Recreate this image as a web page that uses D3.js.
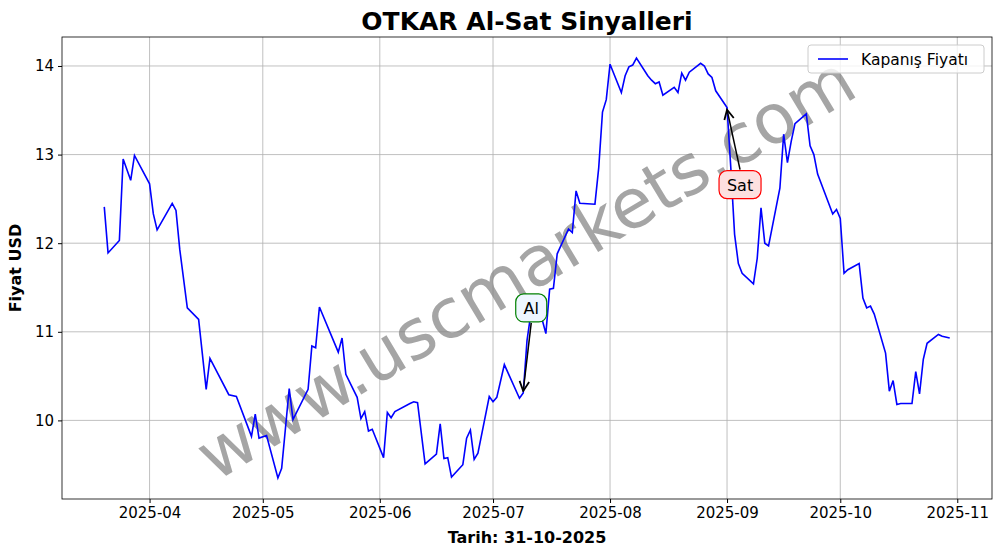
<!DOCTYPE html>
<html>
<head>
<meta charset="utf-8">
<script src="https://cdn.jsdelivr.net/npm/d3@7"></script>
<style>
  body { margin: 0; background: #fff; }
  svg { font-family: "DejaVu Sans", sans-serif; }
  .grid line { stroke: #b0b0b0; stroke-width: 0.8; }
  .axis .domain { display: none; }
</style>
</head>
<body>
<div id="chart"></div>
<script>
// ----------------------------DATA-------------------------------//
const dates = [
  '2025-03-20','2025-03-21','2025-03-24','2025-03-25','2025-03-27','2025-03-28',
  '2025-04-01','2025-04-02','2025-04-03','2025-04-07','2025-04-08','2025-04-09','2025-04-11','2025-04-14',
  '2025-04-16','2025-04-17','2025-04-22','2025-04-24','2025-04-28','2025-04-29','2025-04-30',
  '2025-05-02','2025-05-05','2025-05-06','2025-05-08','2025-05-09','2025-05-13','2025-05-14','2025-05-15',
  '2025-05-16','2025-05-21','2025-05-22','2025-05-23','2025-05-26','2025-05-27','2025-05-28','2025-05-29',
  '2025-05-30','2025-06-02','2025-06-03','2025-06-04','2025-06-05','2025-06-09','2025-06-10','2025-06-11',
  '2025-06-13','2025-06-16','2025-06-17','2025-06-18','2025-06-19','2025-06-20','2025-06-23','2025-06-24',
  '2025-06-25','2025-06-26','2025-06-27','2025-06-30','2025-07-01','2025-07-02','2025-07-04','2025-07-08',
  '2025-07-09','2025-07-10','2025-07-11','2025-07-14','2025-07-15','2025-07-16','2025-07-17','2025-07-18',
  '2025-07-21','2025-07-22','2025-07-23','2025-07-24','2025-07-28','2025-07-29','2025-07-30','2025-07-31',
  '2025-08-01','2025-08-04','2025-08-05','2025-08-06','2025-08-07','2025-08-08','2025-08-11','2025-08-12',
  '2025-08-13','2025-08-14','2025-08-15','2025-08-18','2025-08-19','2025-08-20','2025-08-21','2025-08-22',
  '2025-08-25','2025-08-26','2025-08-27','2025-08-28','2025-08-29','2025-09-01','2025-09-02','2025-09-03',
  '2025-09-04','2025-09-05','2025-09-08','2025-09-09','2025-09-10','2025-09-11','2025-09-12','2025-09-15',
  '2025-09-16','2025-09-17','2025-09-18','2025-09-19','2025-09-22','2025-09-23','2025-09-24','2025-09-25',
  '2025-09-29','2025-09-30','2025-10-01','2025-10-02','2025-10-03','2025-10-06','2025-10-07','2025-10-08',
  '2025-10-09','2025-10-10','2025-10-13','2025-10-14','2025-10-15','2025-10-16','2025-10-17','2025-10-20',
  '2025-10-21','2025-10-22','2025-10-23','2025-10-24','2025-10-27','2025-10-28','2025-10-30'
];
const closes = [
  12.41,11.89,12.03,12.95,12.71,12.99,
  12.67,12.33,12.15,12.45,12.37,11.93,11.27,11.14,
  10.35,10.70,10.29,10.27,9.82,10.07,9.80,
  9.83,9.35,9.46,10.36,10.01,10.35,10.84,10.82,
  11.28,10.77,10.93,10.52,10.26,10.02,10.10,9.88,
  9.90,9.58,10.09,10.03,10.10,10.19,10.21,10.20,
  9.51,9.62,9.96,9.57,9.58,9.36,9.50,9.80,
  9.89,9.56,9.63,10.27,10.21,10.26,10.63,10.25,
  10.31,10.90,11.20,11.14,10.98,11.48,11.49,11.88,
  12.16,12.12,12.59,12.45,12.44,12.85,13.48,13.62,
  14.02,13.70,13.89,13.99,14.01,14.09,13.89,13.84,
  13.80,13.82,13.67,13.76,13.70,13.92,13.84,13.93,
  14.03,14.00,13.91,13.87,13.72,13.53,12.85,12.10,
  11.77,11.66,11.54,11.83,12.40,12.00,11.97,12.62,
  13.23,12.91,13.15,13.35,13.46,13.10,13.00,12.78,
  12.33,12.38,12.28,11.66,11.70,11.77,11.38,11.27,
  11.29,11.20,10.76,10.33,10.45,10.18,10.19,10.19,
  10.55,10.30,10.69,10.87,10.97,10.95,10.93
];
const signalDates = ['2025-07-09', '2025-09-01'];
const signalLabels = ['Al', 'Sat'];
const yTicks = [10, 11, 12, 13, 14];

const width = 1001;
const height = 554;
const margin = { top: 37, right: 9, bottom: 55, left: 62 };
const innerW = width - margin.left - margin.right;
const innerH = height - margin.top - margin.bottom;

const parse = d3.timeParse('%Y-%m-%d');
const data = dates.map((d, i) => ({ date: parse(d), close: closes[i] }));

const svg = d3.select('#chart').append('svg')
  .attr('width', width)
  .attr('height', height);

// ----------------------------SCALES-----------------------------//
const xExt = d3.extent(data, d => d.date);
const xPad = (xExt[1] - xExt[0]) * 0.05;
const xScale = d3.scaleTime()
  .domain([new Date(+xExt[0] - xPad), new Date(+xExt[1] + xPad)])
  .range([0, innerW]);
const yExt = d3.extent(data, d => d.close);
const yPad = (yExt[1] - yExt[0]) * 0.05;
const yScale = d3.scaleLinear()
  .domain([yExt[0] - yPad, yExt[1] + yPad])
  .range([innerH, 0]);

const g = svg.append('g').attr('transform', `translate(${margin.left},${margin.top})`);
const xTicks = d3.timeMonth.range(new Date(2025, 3, 1), new Date(2025, 10, 2));

// -----------------------------GRID------------------------------//
g.append('g').attr('class', 'grid')
  .selectAll('line').data(xTicks).enter().append('line')
  .attr('x1', d => xScale(d)).attr('x2', d => xScale(d))
  .attr('y1', 0).attr('y2', innerH);
g.append('g').attr('class', 'grid')
  .selectAll('line').data(yTicks).enter().append('line')
  .attr('y1', d => yScale(d)).attr('y2', d => yScale(d))
  .attr('x1', 0).attr('x2', innerW);

// -----------------------------AXES------------------------------//
const xAxisG = g.append('g').attr('class', 'axis')
  .attr('transform', `translate(0,${innerH})`)
  .call(d3.axisBottom(xScale).tickValues(xTicks).tickFormat(d3.timeFormat('%Y-%m')).tickSize(4).tickPadding(4));
const yAxisG = g.append('g').attr('class', 'axis')
  .call(d3.axisLeft(yScale).tickValues(yTicks).tickFormat(d3.format('d')).tickSize(4).tickPadding(4));
[xAxisG, yAxisG].forEach(a => a.attr('font-family', 'DejaVu Sans').attr('font-size', 15)
  .selectAll('text').attr('fill', '#000'));
g.append('rect').attr('width', innerW).attr('height', innerH)
  .attr('fill', 'none').attr('stroke', '#000').attr('stroke-width', 0.8);

// ---------------------------WATERMARK----------------------------//
g.append('text')
  .attr('transform', `translate(${528 - margin.left},${272 - margin.top}) rotate(-31)`)
  .attr('text-anchor', 'middle').attr('dominant-baseline', 'middle')
  .style('font-size', '69px').style('fill', '#808080').style('opacity', 0.7)
  .text('www.uscmarkets.com');

// ----------------------------LINES------------------------------//
const line = d3.line().x(d => xScale(d.date)).y(d => yScale(d.close));
g.append('path').datum(data)
  .attr('d', line).attr('fill', 'none')
  .attr('stroke', '#0000ff').attr('stroke-width', 1.6);

// --------------------------SIGNALS------------------------------//
svg.append('defs').append('marker')
  .attr('id', 'arr').attr('viewBox', '0 0 10 10').attr('refX', 9).attr('refY', 5)
  .attr('markerWidth', 8).attr('markerHeight', 8).attr('orient', 'auto-start-reverse')
  .append('path').attr('d', 'M1,1 L9,5 L1,9').attr('fill', 'none').attr('stroke', '#000').attr('stroke-width', 1.5);

signalDates.forEach((sd, i) => {
  const pt = data.find(d => +d.date === +parse(sd));
  const px = xScale(pt.date), py = yScale(pt.close);
  const buy = signalLabels[i] === 'Al';
  const bx = buy ? px + 8 : px + 13;
  const by = buy ? py - 85 : py + 77;
  g.append('line')
    .attr('x1', bx).attr('y1', buy ? by + 15 : by - 15)
    .attr('x2', px).attr('y2', buy ? py - 2 : py + 2)
    .attr('stroke', '#000').attr('stroke-width', 1.5).attr('marker-end', 'url(#arr)');
  const w = buy ? 31 : 42;
  g.append('rect')
    .attr('x', bx - w / 2).attr('y', by - 14).attr('width', w).attr('height', 28)
    .attr('rx', 8).attr('fill', buy ? '#eef6ff' : '#fde0e0')
    .attr('stroke', buy ? 'green' : 'red').attr('stroke-width', 1.2);
  g.append('text').attr('x', bx).attr('y', by + 6)
    .attr('text-anchor', 'middle').style('font-size', '16px').text(signalLabels[i]);
});

// ---------------------------LEGEND------------------------------//
const lg = g.append('g').attr('transform', `translate(${innerW - 184},8)`);
lg.append('rect').attr('width', 176).attr('height', 28).attr('rx', 3)
  .attr('fill', '#fff').attr('fill-opacity', 0.8).attr('stroke', '#ccc');
lg.append('line').attr('x1', 10).attr('x2', 40).attr('y1', 14).attr('y2', 14)
  .attr('stroke', '#0000ff').attr('stroke-width', 1.6);
lg.append('text').attr('x', 53).attr('y', 19.5).style('font-size', '15.5px').text('Kapanış Fiyatı');

// ---------------------------LABELS------------------------------//
svg.append('text').attr('x', margin.left + innerW / 2).attr('y', 30)
  .attr('text-anchor', 'middle').style('font-size', '25px').style('font-weight', 'bold')
  .text('OTKAR Al-Sat Sinyalleri');
svg.append('text').attr('x', margin.left + innerW / 2).attr('y', 543)
  .attr('text-anchor', 'middle').style('font-size', '16px').style('font-weight', 'bold')
  .text('Tarih: 31-10-2025');
svg.append('text').attr('transform', `translate(21,${margin.top + innerH / 2}) rotate(-90)`)
  .attr('text-anchor', 'middle').style('font-size', '16px').style('font-weight', 'bold')
  .text('Fiyat USD');
</script>
</body>
</html>
